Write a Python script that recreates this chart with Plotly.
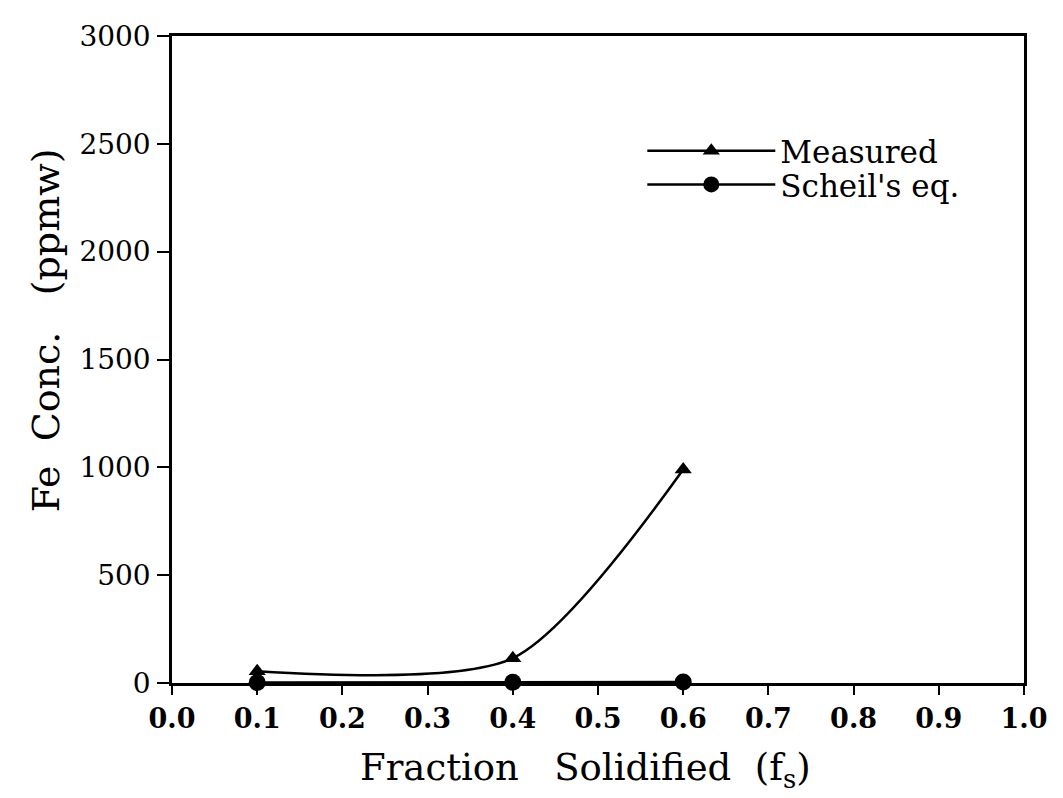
import plotly.graph_objects as go

fs = [0.1, 0.4, 0.6]
measured = [55, 115, 990]
scheil = [2, 3, 5]

x_ticks = [0.0, 0.1, 0.2, 0.3, 0.4, 0.5, 0.6, 0.7, 0.8, 0.9, 1.0]
x_ticklabels = ["0.0", "0.1", "0.2", "0.3", "0.4", "0.5", "0.6", "0.7", "0.8", "0.9", "1.0"]
y_ticks = [0, 500, 1000, 1500, 2000, 2500, 3000]
y_ticklabels = ["0", "500", "1000", "1500", "2000", "2500", "3000"]

x_title = "Fraction   Solidified  (f<sub>s</sub>)"
y_title = "Fe  Conc.   (ppmw)"

serif = "DejaVu Serif, Liberation Serif, serif"

fig = go.Figure()
fig.add_trace(go.Scatter(
    x=fs, y=measured, name="Measured", mode="lines+markers",
    line=dict(color="black", width=2.5, shape="spline", smoothing=0.75),
    marker=dict(symbol="triangle-up", size=15, color="black"),
    cliponaxis=False, legend="legend",
))
fig.add_trace(go.Scatter(
    x=fs, y=scheil, name="Scheil's eq.", mode="lines+markers",
    line=dict(color="black", width=2.5),
    marker=dict(symbol="circle", size=17, color="black"),
    cliponaxis=False, legend="legend2",
))

leg_common = dict(
    xanchor="left", yanchor="middle",
    bgcolor="rgba(0,0,0,0)", borderwidth=0,
    font=dict(family=serif, size=31, color="black"),
    itemwidth=128,
)

fig.update_layout(
    width=1063, height=798,
    margin=dict(l=164, r=47, t=25, b=123),
    paper_bgcolor="white", plot_bgcolor="white",
    showlegend=True,
    legend=dict(x=0.552, y=0.822, **leg_common),
    legend2=dict(x=0.552, y=0.770, **leg_common),
    annotations=[
        dict(text=x_title, xref="paper", yref="paper", x=0.485, y=-0.134,
             xanchor="center", yanchor="middle", showarrow=False,
             font=dict(family=serif, size=37, color="black")),
        dict(text=y_title, xref="paper", yref="paper", x=-0.148, y=0.545,
             xanchor="center", yanchor="middle", showarrow=False, textangle=-90,
             font=dict(family=serif, size=38, color="black")),
    ],
)
fig.update_xaxes(
    range=[0, 1], tickmode="array", tickvals=x_ticks, ticktext=x_ticklabels,
    ticks="outside", ticklen=9, tickwidth=2, tickcolor="black",
    showline=True, linecolor="black", linewidth=2.5, mirror=True,
    showgrid=False, zeroline=False, ticklabelstandoff=1,
    tickfont=dict(family=serif, size=27, color="black", weight="bold"),
)
fig.update_yaxes(
    range=[0, 3000], tickmode="array", tickvals=y_ticks, ticktext=y_ticklabels,
    ticks="outside", ticklen=12, tickwidth=2, tickcolor="black",
    showline=True, linecolor="black", linewidth=2.5, mirror=True,
    showgrid=False, zeroline=False, ticklabelstandoff=1,
    tickfont=dict(family=serif, size=28, color="black"),
)

fig.write_html("out.html")
